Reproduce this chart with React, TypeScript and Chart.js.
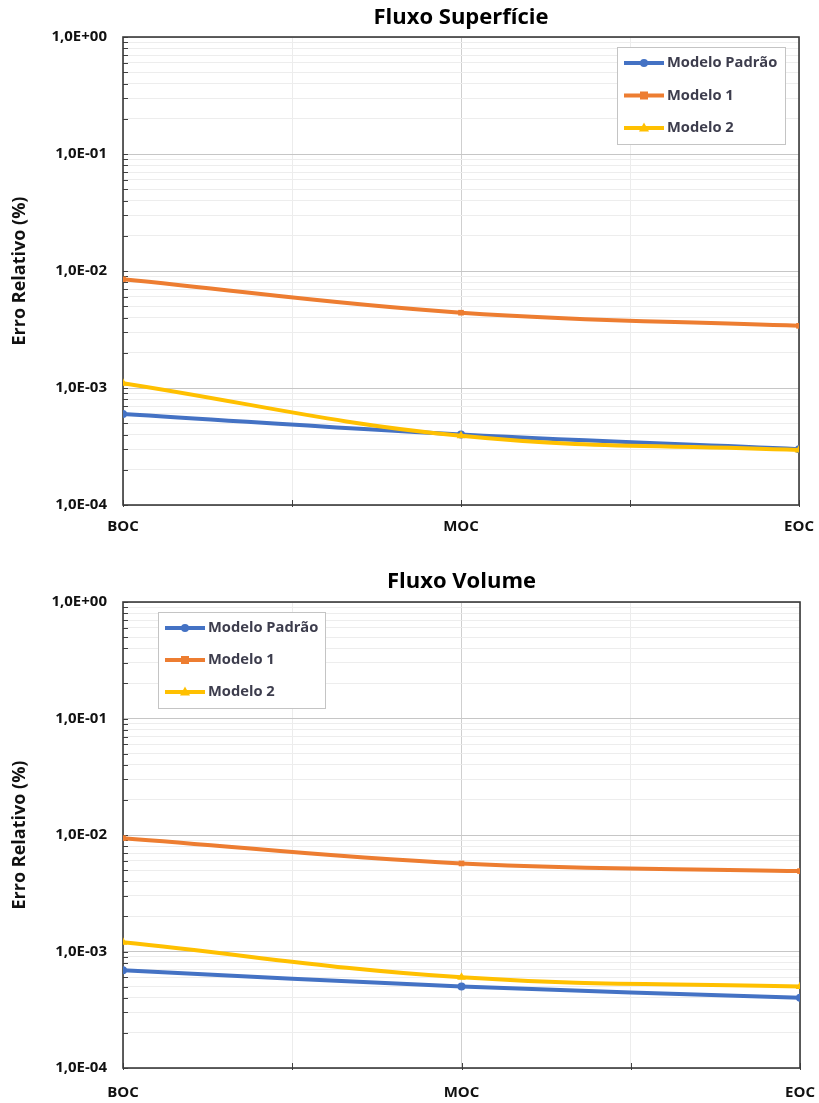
import React, { useEffect, useRef } from 'react';
import { Chart, registerables } from 'chart.js';

Chart.register(...registerables);

// Fuel cycle points and series
const categories = ['BOC', 'MOC', 'EOC'];
const seriesNames = ['Modelo Padrão', 'Modelo 1', 'Modelo 2'];
const seriesColors = ['#4472C4', '#ED7D31', '#FFC000'];
const seriesMarkers = ['circle', 'rect', 'triangle'];

// Fluxo Superfície (relative error, %)
const superficiePadrao = [6.0e-4, 4.0e-4, 3.0e-4];
const superficieModelo1 = [8.5e-3, 4.4e-3, 3.4e-3];
const superficieModelo2 = [1.1e-3, 3.9e-4, 2.95e-4];

// Fluxo Volume (relative error, %)
const volumePadrao = [6.9e-4, 5.0e-4, 4.0e-4];
const volumeModelo1 = [9.4e-3, 5.7e-3, 4.9e-3];
const volumeModelo2 = [1.2e-3, 6.0e-4, 5.0e-4];

const yMin = 1e-4;
const yMax = 1;

const FONT = '"Open Sans", "DejaVu Sans", sans-serif';

const isDecade = (v: number) => {
  const l = Math.log10(v);
  return Math.abs(l - Math.round(l)) < 1e-9;
};

const sciLabel = (v: number) => {
  const e = Math.round(Math.log10(v));
  const sign = e < 0 ? '-' : '+';
  return '1,0E' + sign + String(Math.abs(e)).padStart(2, '0');
};

type LegendBox = { x: number; y: number; w: number; h: number; firstRow: number; rowGap: number };

type PanelProps = {
  title: string;
  values: number[][];
  width: number;
  height: number;
  titlePad: { top: number; bottom: number };
  rightPad: number;
  xAxisHeight: number;
  xLabelPad: number;
  legend: LegendBox;
};

function drawMarker(ctx: CanvasRenderingContext2D, style: string, x: number, y: number, color: string) {
  ctx.fillStyle = color;
  ctx.beginPath();
  if (style === 'circle') {
    ctx.arc(x, y, 4, 0, Math.PI * 2);
  } else if (style === 'rect') {
    ctx.rect(x - 4, y - 4, 8, 8);
  } else {
    ctx.moveTo(x, y - 5.5);
    ctx.lineTo(x + 5, y + 3.5);
    ctx.lineTo(x - 5, y + 3.5);
    ctx.closePath();
  }
  ctx.fill();
}

function ChartPanel(props: PanelProps) {
  const ref = useRef<HTMLCanvasElement | null>(null);

  useEffect(() => {
    if (!ref.current) return;

    // Plot-area frame plus short inward tick marks
    const framePlugin = {
      id: 'frame',
      beforeDatasetsDraw(chart: any) {
        const { ctx, chartArea: a, scales } = chart;
        ctx.save();
        ctx.strokeStyle = '#404040';
        ctx.lineWidth = 1;
        ctx.beginPath();
        scales.y.ticks.forEach((t: any) => {
          const py = Math.round(scales.y.getPixelForValue(t.value)) + 0.5;
          ctx.moveTo(a.left, py);
          ctx.lineTo(a.left + 5, py);
        });
        scales.x.ticks.forEach((t: any) => {
          const px = Math.round(scales.x.getPixelForValue(t.value)) + 0.5;
          ctx.moveTo(px, a.bottom + 2);
          ctx.lineTo(px, a.bottom - 5);
        });
        ctx.stroke();
        ctx.lineWidth = 1.6;
        ctx.strokeStyle = '#3a3a3a';
        ctx.strokeRect(a.left, a.top, a.right - a.left, a.bottom - a.top);
        ctx.restore();
      },
    };

    // Boxed legend drawn inside the plot area
    const box = props.legend;
    const legendPlugin = {
      id: 'boxLegend',
      afterDraw(chart: any) {
        const ctx = chart.ctx as CanvasRenderingContext2D;
        ctx.save();
        ctx.fillStyle = '#ffffff';
        ctx.fillRect(box.x, box.y, box.w, box.h);
        ctx.strokeStyle = '#c4c4c4';
        ctx.lineWidth = 1;
        ctx.strokeRect(box.x + 0.5, box.y + 0.5, box.w, box.h);
        seriesNames.forEach((name, i) => {
          const cy = box.y + box.firstRow + i * box.rowGap;
          const x0 = box.x + 7;
          const x1 = x0 + 40;
          ctx.strokeStyle = seriesColors[i];
          ctx.lineWidth = 4;
          ctx.beginPath();
          ctx.moveTo(x0, cy);
          ctx.lineTo(x1, cy);
          ctx.stroke();
          drawMarker(ctx, seriesMarkers[i], (x0 + x1) / 2, cy, seriesColors[i]);
          ctx.fillStyle = '#3d3d4d';
          ctx.font = `bold 14.7px ${FONT}`;
          ctx.textBaseline = 'middle';
          ctx.textAlign = 'left';
          ctx.fillText(name, x1 + 3, cy);
        });
        ctx.restore();
      },
    };

    const chart = new Chart(ref.current, {
      type: 'line',
      data: {
        datasets: seriesNames.map((name, i) => ({
          label: name,
          data: props.values[i].map((y, k) => ({ x: k, y })),
          borderColor: seriesColors[i],
          backgroundColor: seriesColors[i],
          borderWidth: 4,
          pointStyle: seriesMarkers[i] as any,
          pointRadius: i === 2 ? 5 : 4,
          pointBorderWidth: 0,
          tension: 0.4,
          order: 2 - i,
        })),
      },
      options: {
        responsive: false,
        animation: false,
        devicePixelRatio: 1,
        layout: { padding: { left: 0, right: props.rightPad, top: 0, bottom: 0 } },
        plugins: {
          legend: { display: false },
          tooltip: { enabled: false },
          title: {
            display: true,
            text: props.title,
            fullSize: false,
            color: '#000',
            font: { family: FONT, size: 22, weight: 'bold' },
            padding: props.titlePad,
          },
        },
        scales: {
          x: {
            type: 'linear',
            min: 0,
            max: categories.length - 1,
            afterBuildTicks: (scale: any) => {
              const t = [];
              for (let v = 0; v <= categories.length - 1 + 1e-9; v += 0.5) t.push({ value: v });
              scale.ticks = t;
            },
            afterFit: (scale: any) => {
              scale.height = props.xAxisHeight;
              scale.paddingLeft = 0;
              scale.paddingRight = 0;
            },
            border: { display: false },
            grid: {
              drawTicks: false,
              color: (ctx: any) =>
                ctx.tick && Number.isInteger(ctx.tick.value) ? '#cfcfcf' : '#ececec',
            },
            ticks: {
              autoSkip: false,
              maxRotation: 0,
              padding: props.xLabelPad,
              color: '#111',
              font: { family: FONT, size: 15, weight: 'bold' },
              callback: (v: any) => (Number.isInteger(v) ? categories[v] : ''),
            },
          },
          y: {
            type: 'logarithmic',
            min: yMin,
            max: yMax,
            afterBuildTicks: (scale: any) => {
              const t = [];
              for (let e = Math.round(Math.log10(yMin)); e < Math.round(Math.log10(yMax)); e++) {
                for (let m = 1; m <= 9; m++) t.push({ value: m * Math.pow(10, e) });
              }
              t.push({ value: yMax });
              scale.ticks = t;
            },
            afterFit: (scale: any) => {
              scale.width = 123;
              scale.paddingTop = 0;
              scale.paddingBottom = 0;
            },
            border: { display: false },
            grid: {
              drawTicks: false,
              color: (ctx: any) =>
                ctx.tick && isDecade(ctx.tick.value) ? '#c6c6c6' : '#ededed',
            },
            ticks: {
              autoSkip: false,
              padding: 16,
              color: '#111',
              font: { family: FONT, size: 15, weight: 'bold' },
              callback: (v: any) => (isDecade(Number(v)) ? sciLabel(Number(v)) : ''),
            },
            title: {
              display: true,
              text: 'Erro Relativo (%)',
              color: '#111',
              font: { family: FONT, size: 18, weight: 'bold' },
              padding: { top: 9, bottom: 0 },
            },
          },
        },
      },
      plugins: [framePlugin, legendPlugin],
    } as any);

    return () => chart.destroy();
  }, []);

  return (
    <canvas
      ref={ref}
      width={props.width}
      height={props.height}
      style={{ display: 'block', width: props.width, height: props.height }}
    />
  );
}

export default function App() {
  return (
    <div style={{ position: 'absolute', left: 0, top: 0, width: 819, height: 1103, background: '#fff' }}>
      <ChartPanel
        title="Fluxo Superfície"
        values={[superficiePadrao, superficieModelo1, superficieModelo2]}
        width={819}
        height={550}
        titlePad={{ top: 5, bottom: 5.6 }}
        rightPad={20}
        xAxisHeight={45}
        xLabelPad={13}
        legend={{ x: 617, y: 47, w: 168, h: 97, firstRow: 16, rowGap: 32.5 }}
      />
      <ChartPanel
        title="Fluxo Volume"
        values={[volumePadrao, volumeModelo1, volumeModelo2]}
        width={819}
        height={553}
        titlePad={{ top: 19, bottom: 6.6 }}
        rightPad={19}
        xAxisHeight={35}
        xLabelPad={16}
        legend={{ x: 158, y: 62, w: 167, h: 96, firstRow: 16, rowGap: 32 }}
      />
    </div>
  );
}
